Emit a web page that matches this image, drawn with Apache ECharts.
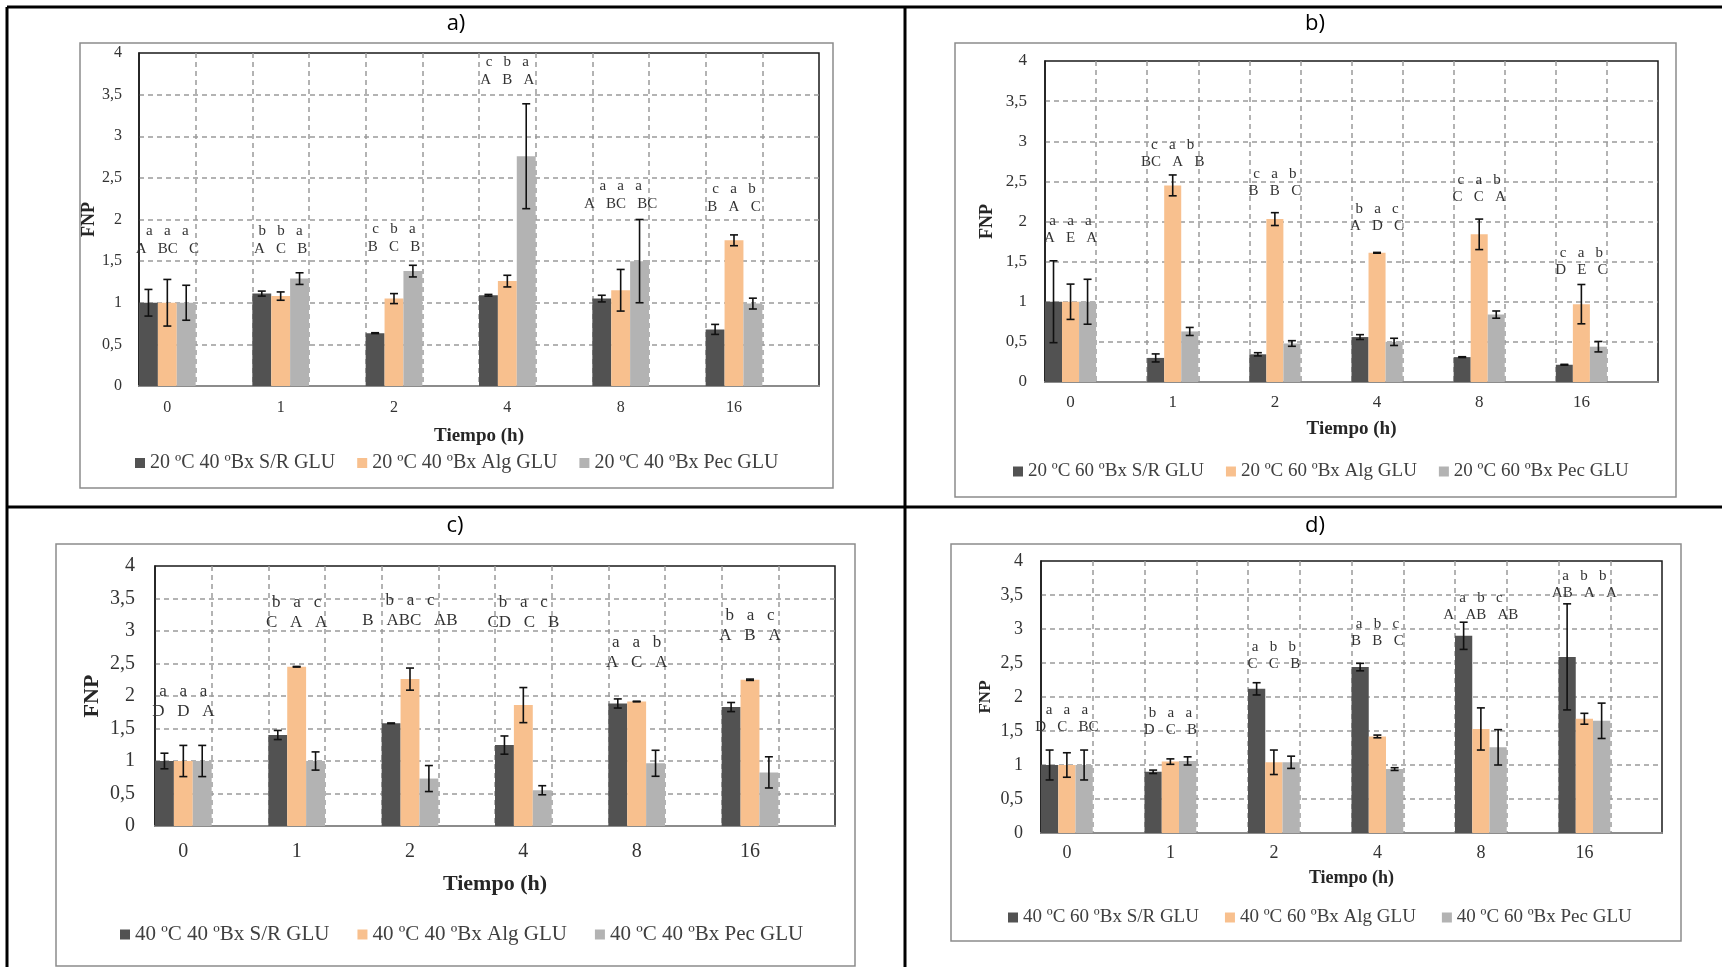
<!DOCTYPE html>
<html>
<head>
<meta charset="utf-8">
<script src="https://cdn.jsdelivr.net/npm/echarts@6/dist/echarts.min.js"></script>
<style>
  html, body { margin: 0; padding: 0; background: #fff; }
  #chart { width: 1722px; height: 967px; }
</style>
</head>
<body>
<div id="chart"></div>
<script>
// time points (h)
const times = ['0', '1', '2', '4', '8', '16'];

// a) 20 ºC 40 ºBx
const aNames = ['20 ºC 40 ºBx S/R GLU', '20 ºC 40 ºBx Alg GLU', '20 ºC 40 ºBx Pec GLU'];
const aSR = [1.00, 1.11, 0.635, 1.09, 1.05, 0.68];
const aSRErr = [0.16, 0.03, 0.005, 0.01, 0.04, 0.06];
const aAlg = [1.00, 1.08, 1.05, 1.26, 1.15, 1.75];
const aAlgErr = [0.28, 0.05, 0.06, 0.07, 0.25, 0.065];
const aPec = [1.00, 1.29, 1.38, 2.76, 1.50, 0.99];
const aPecErr = [0.21, 0.07, 0.07, 0.63, 0.50, 0.065];
const aLower = [['a', 'a', 'a'], ['b', 'b', 'a'], ['c', 'b', 'a'], ['c', 'b', 'a'], ['a', 'a', 'a'], ['c', 'a', 'b']];
const aUpper = [['A', 'BC', 'C'], ['A', 'C', 'B'], ['B', 'C', 'B'], ['A', 'B', 'A'], ['A', 'BC', 'BC'], ['B', 'A', 'C']];
const aLetterY = [1.64, 1.64, 1.67, 3.67, 2.19, 2.15];

// b) 20 ºC 60 ºBx
const bNames = ['20 ºC 60 ºBx S/R GLU', '20 ºC 60 ºBx Alg GLU', '20 ºC 60 ºBx Pec GLU'];
const bSR = [1.00, 0.30, 0.345, 0.56, 0.31, 0.215];
const bSRErr = [0.51, 0.05, 0.02, 0.03, 0.005, 0.005];
const bAlg = [1.00, 2.45, 2.03, 1.61, 1.84, 0.97];
const bAlgErr = [0.22, 0.13, 0.08, 0.005, 0.19, 0.245];
const bPec = [1.00, 0.63, 0.48, 0.50, 0.84, 0.44];
const bPecErr = [0.28, 0.05, 0.035, 0.045, 0.045, 0.065];
const bLower = [['a', 'a', 'a'], ['c', 'a', 'b'], ['c', 'a', 'b'], ['b', 'a', 'c'], ['c', 'a', 'b'], ['c', 'a', 'b']];
const bUpper = [['A', 'E', 'A'], ['BC', 'A', 'B'], ['B', 'B', 'C'], ['A', 'D', 'C'], ['C', 'C', 'A'], ['D', 'E', 'C']];
const bLetterY = [1.79, 2.74, 2.38, 1.94, 2.30, 1.40];

// c) 40 ºC 40 ºBx
const cNames = ['40 ºC 40 ºBx S/R GLU', '40 ºC 40 ºBx Alg GLU', '40 ºC 40 ºBx Pec GLU'];
const cSR = [1.00, 1.40, 1.58, 1.245, 1.885, 1.83];
const cSRErr = [0.12, 0.07, 0.005, 0.14, 0.07, 0.07];
const cAlg = [1.00, 2.45, 2.26, 1.86, 1.915, 2.25];
const cAlgErr = [0.24, 0.005, 0.17, 0.27, 0.005, 0.01];
const cPec = [1.00, 1.00, 0.73, 0.55, 0.965, 0.825];
const cPecErr = [0.24, 0.14, 0.20, 0.07, 0.20, 0.24];
const cLower = [['a', 'a', 'a'], ['b', 'a', 'c'], ['b', 'a', 'c'], ['b', 'a', 'c'], ['a', 'a', 'b'], ['b', 'a', 'c']];
const cUpper = [['D', 'D', 'A'], ['C', 'A', 'A'], ['B', 'ABC', 'AB'], ['CD', 'C', 'B'], ['A', 'C', 'A'], ['A', 'B', 'A']];
const cLetterY = [1.76, 3.13, 3.16, 3.13, 2.52, 2.93];

// d) 40 ºC 60 ºBx
const dNames = ['40 ºC 60 ºBx S/R GLU', '40 ºC 60 ºBx Alg GLU', '40 ºC 60 ºBx Pec GLU'];
const dSR = [1.00, 0.90, 2.12, 2.44, 2.90, 2.59];
const dSRErr = [0.22, 0.025, 0.09, 0.055, 0.20, 0.78];
const dAlg = [1.00, 1.05, 1.04, 1.42, 1.53, 1.68];
const dAlgErr = [0.18, 0.04, 0.18, 0.02, 0.31, 0.08];
const dPec = [1.00, 1.06, 1.04, 0.94, 1.26, 1.65];
const dPecErr = [0.22, 0.06, 0.09, 0.02, 0.26, 0.26];
const dLower = [['a', 'a', 'a'], ['b', 'a', 'a'], ['a', 'b', 'b'], ['a', 'b', 'c'], ['a', 'b', 'c'], ['a', 'b', 'b']];
const dUpper = [['D', 'C', 'BC'], ['D', 'C', 'B'], ['C', 'C', 'B'], ['B', 'B', 'C'], ['A', 'AB', 'AB'], ['AB', 'A', 'A']];
const dLetterY = [1.565, 1.515, 2.49, 2.82, 3.205, 3.535];

const colors = ['#525252', '#f8c08e', '#b3b3b3'];
const serif = 'Liberation Serif, Times New Roman, serif';

// panel layout (pixels)
const panels = [
  {
    names: aNames, vals: [aSR, aAlg, aPec], errs: [aSRErr, aAlgErr, aPecErr],
    lower: aLower, upper: aUpper, letterY: aLetterY,
    grid: { left: 139, top: 53, width: 680, height: 333 },
    tickFs: 16, yMargin: 17, xMargin: 14, nameFs: 18, yNameGap: 34, xNameFs: 19, xNameGap: 41,
    letterFs: 15, rowGap: 18,
    legend: { left: 135, top: 453, fs: 20, gap: 22 },
  },
  {
    names: bNames, vals: [bSR, bAlg, bPec], errs: [bSRErr, bAlgErr, bPecErr],
    lower: bLower, upper: bUpper, letterY: bLetterY,
    grid: { left: 1045, top: 61, width: 613, height: 321 },
    tickFs: 17, yMargin: 18, xMargin: 12, nameFs: 18, yNameGap: 49, xNameFs: 19, xNameGap: 38,
    letterFs: 15, rowGap: 17,
    legend: { left: 1013, top: 462, fs: 19, gap: 22 },
  },
  {
    names: cNames, vals: [cSR, cAlg, cPec], errs: [cSRErr, cAlgErr, cPecErr],
    lower: cLower, upper: cUpper, letterY: cLetterY,
    grid: { left: 155, top: 566, width: 680, height: 260 },
    tickFs: 20, yMargin: 20, xMargin: 16, nameFs: 22, yNameGap: 52, xNameFs: 22, xNameGap: 47,
    letterFs: 17, rowGap: 20,
    legend: { left: 120, top: 924, fs: 21, gap: 28 },
  },
  {
    names: dNames, vals: [dSR, dAlg, dPec], errs: [dSRErr, dAlgErr, dPecErr],
    lower: dLower, upper: dUpper, letterY: dLetterY,
    grid: { left: 1041, top: 561, width: 621, height: 272 },
    tickFs: 18, yMargin: 18, xMargin: 11, nameFs: 17, yNameGap: 47, xNameFs: 18, xNameGap: 36,
    letterFs: 15, rowGap: 17,
    legend: { left: 1008, top: 908, fs: 19, gap: 26 },
  },
];

const option = {
  animation: false,
  grid: [],
  xAxis: [],
  yAxis: [],
  legend: [],
  series: [],
  graphic: [],
};

// every time point takes one slot, followed by an empty slot
const slotNames = times.flatMap((t) => [t, t + ' ']);
const toSlots = (vals) => vals.flatMap((v) => [v, '-']);
const dash = { type: [5, 4], color: '#9a9a9a', width: 1.5 };

panels.forEach((p, k) => {
  option.grid.push({
    ...p.grid,
    show: true,
    borderColor: '#1a1a1a',
    borderWidth: 1.5,
  });
  option.xAxis.push({
    type: 'category',
    gridIndex: k,
    data: slotNames,
    name: 'Tiempo (h)',
    nameLocation: 'middle',
    nameGap: p.xNameGap,
    nameTextStyle: { fontFamily: serif, fontWeight: 'bold', fontSize: p.xNameFs, color: '#262626' },
    axisTick: { show: false },
    axisLine: { lineStyle: { color: '#8c8c8c', width: 2 } },
    axisLabel: {
      interval: 0,
      margin: p.xMargin,
      fontFamily: serif,
      fontSize: p.tickFs,
      color: '#333',
      formatter: (v) => (v.endsWith(' ') ? '' : v),
    },
    splitLine: { show: true, interval: 0, showMinLine: false, showMaxLine: false, lineStyle: dash },
  });
  option.yAxis.push({
    type: 'value',
    gridIndex: k,
    min: 0,
    max: 4,
    interval: 0.5,
    name: 'FNP',
    nameLocation: 'middle',
    nameRotate: 90,
    nameGap: p.yNameGap,
    nameTextStyle: { fontFamily: serif, fontWeight: 'bold', fontSize: p.nameFs, color: '#262626' },
    axisLine: { show: true, lineStyle: { color: '#1a1a1a', width: 1.5 } },
    axisTick: { show: false },
    axisLabel: {
      margin: p.yMargin,
      fontFamily: serif,
      fontSize: p.tickFs,
      color: '#333',
      formatter: (v) => String(v).replace('.', ','),
    },
    splitLine: { show: true, showMinLine: false, showMaxLine: false, lineStyle: dash },
  });
  option.legend.push({
    data: p.names,
    left: p.legend.left,
    top: p.legend.top,
    padding: 0,
    icon: 'rect',
    itemWidth: 10,
    itemHeight: 10,
    itemGap: p.legend.gap,
    selectedMode: false,
    textStyle: { fontFamily: serif, fontSize: p.legend.fs, color: '#404040' },
  });

  // bars
  p.names.forEach((name, j) => {
    option.series.push({
      type: 'bar',
      name,
      xAxisIndex: k,
      yAxisIndex: k,
      data: toSlots(p.vals[j]),
      barGap: '0%',
      barCategoryGap: '0%',
      itemStyle: { color: colors[j] },
      z: 2,
    });
  });

  // error bars
  const errData = [];
  times.forEach((t, i) => {
    for (let j = 0; j < 3; j++) {
      const v = p.vals[j][i];
      const e = p.errs[j][i];
      errData.push([2 * i, v + e, v - e, j]);
    }
  });
  option.series.push({
    type: 'custom',
    name: 'err' + k,
    xAxisIndex: k,
    yAxisIndex: k,
    z: 3,
    encode: { x: 0, y: [1, 2] },
    data: errData,
    renderItem: (params, api) => {
      const slot = api.value(0);
      const bw = api.size([1, 0])[0] / 3;
      const x = api.coord([slot, 0])[0] + (api.value(3) - 1) * bw;
      const y1 = api.coord([slot, api.value(1)])[1];
      const y2 = api.coord([slot, api.value(2)])[1];
      const c = 4;
      const st = { stroke: '#111', lineWidth: 1.6 };
      return {
        type: 'group',
        children: [
          { type: 'line', shape: { x1: x, y1, x2: x, y2 }, style: st },
          { type: 'line', shape: { x1: x - c, y1, x2: x + c, y2: y1 }, style: st },
          { type: 'line', shape: { x1: x - c, y1: y2, x2: x + c, y2 }, style: st },
        ],
      };
    },
  });

  // significance letters, typed as one spaced line per row over each group
  option.series.push({
    type: 'custom',
    name: 'letters' + k,
    xAxisIndex: k,
    yAxisIndex: k,
    z: 4,
    encode: { x: 0, y: 1 },
    data: times.map((t, i) => [2 * i, p.letterY[i]]),
    renderItem: (params, api) => {
      const i = params.dataIndex;
      const pt = api.coord([api.value(0), api.value(1)]);
      const font = p.letterFs + 'px ' + serif;
      const st = (text) => ({ text, font, fill: '#333', textAlign: 'center', textVerticalAlign: 'middle' });
      return {
        type: 'group',
        children: [
          { type: 'text', x: pt[0], y: pt[1], style: st(p.upper[i].join('   ')) },
          { type: 'text', x: pt[0], y: pt[1] - p.rowGap, style: st(p.lower[i].join('   ')) },
        ],
      };
    },
  });
});

// table lines, chart frames and panel titles
const tableLine = (x1, y1, x2, y2) => ({
  type: 'line', shape: { x1, y1, x2, y2 }, style: { stroke: '#000', lineWidth: 3 },
});
const frame = (x, y, width, height) => ({
  type: 'rect', shape: { x, y, width, height }, style: { fill: 'none', stroke: '#8c8c8c', lineWidth: 1.5 },
});
const title = (x, y, text) => ({
  type: 'text', x, y,
  style: { text, font: '22px "Open Sans", "Noto Sans", sans-serif', fill: '#000', textAlign: 'center', textVerticalAlign: 'middle' },
});
option.graphic = [
  tableLine(7, 7, 1722, 7),
  tableLine(7, 7, 7, 967),
  tableLine(905, 7, 905, 967),
  tableLine(7, 507, 1722, 507),
  frame(80, 43, 753, 445),
  frame(955, 43, 721, 454),
  frame(56, 544, 799, 422),
  frame(951, 544, 730, 397),
  title(456, 24, 'a)'),
  title(1315, 24, 'b)'),
  title(455, 526, 'c)'),
  title(1315, 526, 'd)'),
];

const chart = echarts.init(document.getElementById('chart'));
chart.setOption(option);
</script>
</body>
</html>
